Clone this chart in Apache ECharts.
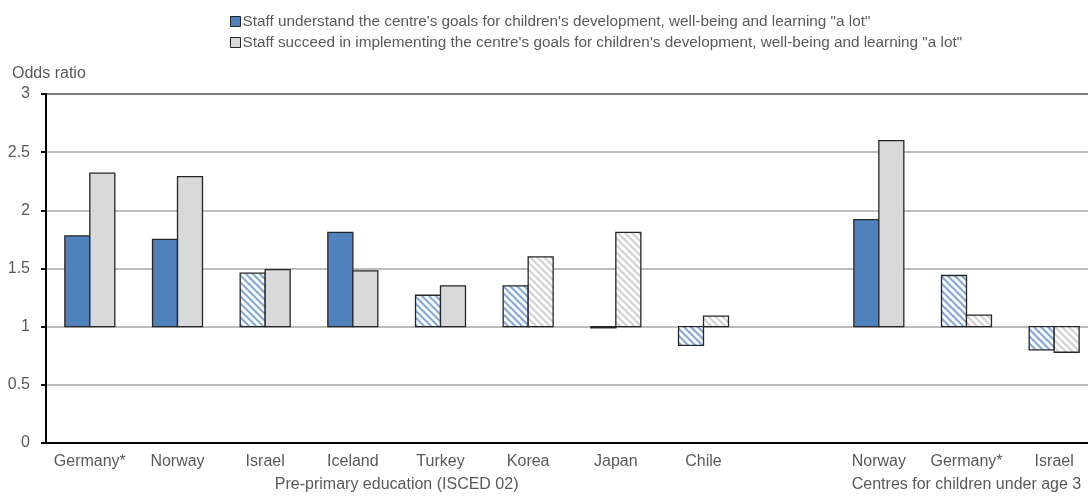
<!DOCTYPE html>
<html>
<head>
<meta charset="utf-8">
<script src="https://cdn.jsdelivr.net/npm/echarts@6/dist/echarts.min.js"></script>
<style>
  html, body { margin: 0; padding: 0; background: #fff; }
  #chart { width: 1088px; height: 496px; }
</style>
</head>
<body>
<div id="chart"></div>
<script>
// Country categories; the empty slot separates the two groups of settings
const categories = ['Germany*', 'Norway', 'Israel', 'Iceland', 'Turkey', 'Korea', 'Japan', 'Chile', '', 'Norway', 'Germany*', 'Israel'];

// Odds ratios
const understandValues = [1.78, 1.75, 1.46, 1.81, 1.27, 1.35, 0.99, 0.84, null, 1.92, 1.44, 0.80];
const succeedValues    = [2.32, 2.29, 1.49, 1.48, 1.35, 1.60, 1.81, 1.09, null, 2.60, 1.10, 0.78];

// 1 = statistically significant (solid fill), 0 = not significant (hatched)
const understandSig = [1, 1, 0, 1, 0, 0, 0, 0, null, 1, 0, 0];
const succeedSig    = [1, 1, 1, 1, 1, 0, 0, 0, null, 1, 0, 0];

const seriesNames = [
  'Staff understand the centre\'s goals for children\'s development, well-being and learning "a lot"',
  'Staff succeed in implementing the centre\'s goals for children\'s development, well-being and learning "a lot"'
];

// Group captions and the category index range they sit under
const groupLabels = ['Pre-primary education (ISCED 02)', 'Centres for children under age 3'];
const groupRanges = [[0, 7], [9, 11]];

const yTicks = { min: 0, max: 3, interval: 0.5 };
const baseline = 1;

const FONT = '"Liberation Sans", Arial, sans-serif';
const TEXT = '#595959';
const BLUE = '#4f81bd';
const GREY = '#d9d9d9';

function hatch(stripe) {
  const s = 7;
  const c = document.createElement('canvas');
  c.width = s; c.height = s;
  const g = c.getContext('2d');
  g.fillStyle = '#ffffff';
  g.fillRect(0, 0, s, s);
  g.strokeStyle = stripe;
  g.lineWidth = 2.2;
  g.beginPath();
  g.moveTo(-2, -2); g.lineTo(s + 2, s + 2);
  g.moveTo(-2 - s, -2); g.lineTo(2, s + 2);
  g.moveTo(s - 2, -2); g.lineTo(2 * s + 2, s + 2);
  g.stroke();
  return { image: c, repeat: 'repeat' };
}
const blueHatch = hatch('#86aadb');
const greyHatch = hatch('#d2d2d2');

function makeSeries(idx, values, sig, solid, hatched) {
  return {
    type: 'custom',
    name: seriesNames[idx],
    itemStyle: { color: solid, borderColor: '#262626', borderWidth: 1 },
    data: values.map((v, i) => [i, v, sig[i]]),
    encode: { x: 0, y: 1 },
    renderItem: function (params, api) {
      const v = api.value(1);
      if (v == null || isNaN(v)) return null;
      const cat = api.value(0);
      const band = api.size([1, 0])[0];
      const w = band * 0.285;
      const p0 = api.coord([cat, baseline]);
      const p1 = api.coord([cat, v]);
      const x = idx === 0 ? p0[0] - w : p0[0];
      const y = Math.min(p0[1], p1[1]);
      const h = Math.max(Math.abs(p1[1] - p0[1]), 1);
      return {
        type: 'rect',
        shape: { x: x, y: y, width: w, height: h },
        style: {
          fill: api.value(2) ? solid : hatched,
          stroke: '#262626',
          lineWidth: 1.3
        }
      };
    }
  };
}

const chart = echarts.init(document.getElementById('chart'), null, { renderer: 'canvas' });

const option = {
  animation: false,
  textStyle: { fontFamily: FONT },
  legend: {
    orient: 'vertical',
    left: 225,
    top: 9,
    itemWidth: 10,
    itemHeight: 10,
    itemGap: 6,
    icon: 'rect',
    textStyle: { color: TEXT, fontSize: 15.3, fontFamily: FONT, padding: [0, 0, 0, -3] },
    data: [
      { name: seriesNames[0], itemStyle: { color: BLUE, borderColor: '#262626', borderWidth: 1 } },
      { name: seriesNames[1], itemStyle: { color: GREY, borderColor: '#262626', borderWidth: 1 } }
    ]
  },
  grid: {
    left: 46,
    top: 94,
    right: -10,
    bottom: 53,
    outerBoundsMode: 'none',
    show: true,
    borderColor: '#000',
    borderWidth: 2,
    containLabel: false
  },
  xAxis: {
    type: 'category',
    data: categories,
    axisLine: { show: true, lineStyle: { color: '#000', width: 2 } },
    axisTick: { show: false },
    axisLabel: { color: TEXT, fontSize: 16, margin: 11, fontFamily: FONT, interval: 0 },
    splitLine: { show: false }
  },
  yAxis: {
    type: 'value',
    min: yTicks.min,
    max: yTicks.max,
    interval: yTicks.interval,
    name: 'Odds ratio',
    nameLocation: 'end',
    nameGap: 12,
    nameTextStyle: { color: TEXT, fontSize: 16, fontFamily: FONT, align: 'left', padding: [0, 0, 0, -34] },
    axisLine: { show: true, lineStyle: { color: '#000', width: 2 } },
    axisTick: { show: true, length: 5, lineStyle: { color: '#000', width: 2 } },
    axisLabel: { color: TEXT, fontSize: 16, margin: 16, fontFamily: FONT },
    splitLine: { show: true, lineStyle: { color: '#a6a6a6', width: 1.5 } }
  },
  series: [
    makeSeries(0, understandValues, understandSig, BLUE, blueHatch),
    makeSeries(1, succeedValues, succeedSig, GREY, greyHatch)
  ]
};

chart.setOption(option);

// Group captions centred under their category ranges
const graphics = groupLabels.map((label, g) => {
  const a = chart.convertToPixel({ xAxisIndex: 0 }, groupRanges[g][0]);
  const b = chart.convertToPixel({ xAxisIndex: 0 }, groupRanges[g][1]);
  return {
    type: 'text',
    x: (a + b) / 2,
    y: 477,
    style: { text: label, fill: TEXT, font: '16px ' + FONT, textAlign: 'center', textVerticalAlign: 'top' }
  };
});
chart.setOption({ graphic: graphics });
</script>
</body>
</html>
